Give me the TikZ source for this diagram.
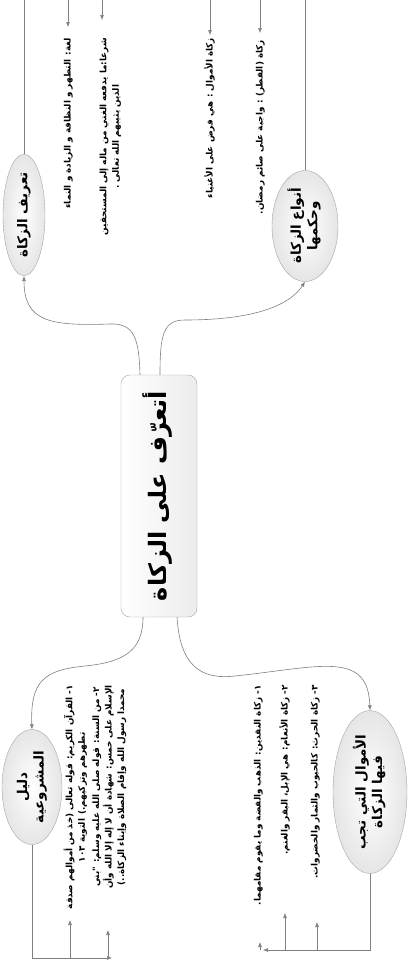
\documentclass[tikz,border=0pt]{standalone}
\usepackage{fontspec}
\usepackage{graphicx}
\usetikzlibrary{shapes.geometric,arrows.meta}
\newfontfamily\arabicfont[Script=Arabic]{DejaVu Sans}
\TeXXeTstate=1
\newcommand{\rl}[1]{\beginR #1\endR}
\newcommand{\vtext}[1]{\rotatebox{90}{\begin{tabular}{@{}c@{}}#1\end{tabular}}}
\tikzset{
  hub/.style={draw=gray!70, rounded corners=9pt, left color=white, right color=gray!15,
    minimum width=76pt, minimum height=242pt, inner sep=0pt,
    font=\arabicfont\bfseries\fontsize{24}{28}\selectfont},
  topic/.style={ellipse, draw=gray!70, inner color=white, outer color=gray!20, inner sep=0pt,
    font=\arabicfont\bfseries\fontsize{13.5}{16.5}\selectfont},
  leaf/.style={inner sep=0pt, anchor=north, font=\arabicfont\bfseries\fontsize{8.8}{12.5}\selectfont},
  link/.style={draw=gray, line width=0.6pt, -{Latex[length=5pt,width=4pt]}},
  tree/.style={draw=gray, line width=0.6pt},
}
\begin{document}
\begin{tikzpicture}[x=1pt,y=-1pt]
	\path[use as bounding box, fill=white] (0,0) rectangle (408,969);
	\clip (0,0) rectangle (408,969);
	\node[hub] at (159,496) (zakat) {\vtext{\rl{أتعرّف على الزكاة}}};
	\node[topic, minimum width=42pt, minimum height=118pt] at (24,215) (tarif) {\vtext{\rl{تعريف الزكاة}}};
	\node[topic, minimum width=66pt, minimum height=111pt] at (305,226) (anwa) {\vtext{\rl{أنواع الزكاة}\\\rl{وحكمها}}};
	\node[topic, minimum width=60pt, minimum height=115pt] at (32,787) (dalil) {\vtext{\rl{دليل}\\\rl{المشروعية}}};
	\node[topic, minimum width=74pt, minimum height=135pt] at (370,792) (amwal) {\vtext{\rl{الأموال التي تجب}\\\rl{فيها الزكاة}}};
	\node[leaf] at (68,38) (lugha) {\vtext{\rl{لغة: التطهر و النظافة و الزيادة و النماء}}};
	\node[leaf] at (110,38) (shar) {\vtext{\rl{شرعا:ما يدفعه الغني من ماله إلى المستحقين}\\\rl{الذين يثيبهم الله تعالى .}}};
	\node[leaf] at (210,38) (fard) {\vtext{\rl{زكاة الأموال : هي فرض على الأغنياء}}};
	\node[leaf] at (260,40) (fitr) {\vtext{\rl{زكاة (الفطر) : واجبة على صائم رمضان.}}};
	\node[leaf] at (76,685) (quran) {\vtext{\rl{١- القرآن الكريم: قوله تعالى (خذ من أموالهم صدقة}\\\rl{تطهرهم وتزكيهم.) التوبة \beginL ١٠٣\endL}}};
	\node[leaf] at (109,685) (sunna) {\vtext{\rl{٢- من السنة: قوله صلى الله عليه وسلم: "بني}\\\rl{الإسلام على خمس: شهادة أن لا إله إلا الله وأن}\\\rl{محمدا رسول الله وإقام الصلاة وإيتاء الزكاة..)}}};
	\node[leaf] at (258,685) (naqd) {\vtext{\rl{١- زكاة النقدين: الذهب والفضة وما يقوم مقامهما.}}};
	\node[leaf] at (285,685) (anam) {\vtext{\rl{٢- زكاة الأنعام: هي الإبل، البقر والغنم.}}};
	\node[leaf] at (315,685) (harth) {\vtext{\rl{٣- زكاة الحرث: كالحبوب والثمار والخضروات.}}};
	\draw[link] ([xshift=-19pt]zakat.north) .. controls (139,340) and (135,323) .. (110,324)
		.. controls (50,326) and (24,322) .. (tarif.south);
	\draw[link] ([xshift=1pt]zakat.north) .. controls (160,335) and (163,320) .. (185,320)
		.. controls (255,320) and (290,305) .. (anwa.south);
	\draw[link] ([xshift=-16pt]zakat.south) .. controls (143,650) and (125,662) .. (85,666)
		.. controls (45,670) and (30,680) .. (dalil.north);
	\draw[link] ([xshift=18pt]zakat.south) .. controls (180,665) and (200,680) .. (235,676)
		.. controls (320,667) and (368,650) .. (amwal.north);
	\coordinate (lughahead) at (68,-14);
	\coordinate (sharhead) at (102,-14);
	\draw[tree] (tarif.north) |- (sharhead);
	\draw[link] (lughahead) -- ++(0,41);
	\draw[link] (sharhead) -- ++(0,34);
	\coordinate (fardhead) at (210,-14);
	\coordinate (fitrhead) at (260,-14);
	\draw[tree] (anwa.north) |- (fardhead);
	\draw[link] (fardhead) -- ++(0,49);
	\draw[link] (fitrhead) -- ++(0,47);
	\coordinate (dalilend) at (112,958);
	\coordinate (quranfoot) at (70,958);
	\coordinate (sunnafoot) at (108,958);
	\draw[link] (dalil.south) |- (dalilend);
	\draw[link] (quranfoot) -- ++(0,-38);
	\draw[link] (sunnafoot) -- ++(0,-28);
	\coordinate (amwalend) at (263,950);
	\coordinate (naqdfoot) at (260,950);
	\coordinate (anamfoot) at (285,950);
	\coordinate (harthfoot) at (317,950);
	\draw[link] (amwal.south) |- (amwalend);
	\draw[link] (naqdfoot) -- ++(0,-8);
	\draw[link] (anamfoot) -- ++(0,-37);
	\draw[link] (harthfoot) -- ++(0,-28);
\end{tikzpicture}
\end{document}
